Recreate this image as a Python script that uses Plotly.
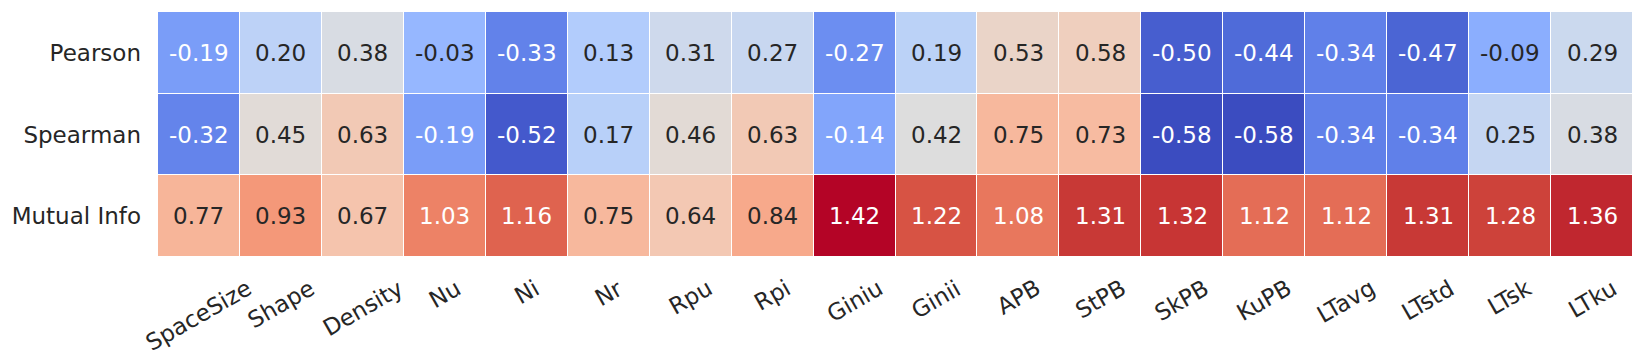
import plotly.graph_objects as go

features = ["SpaceSize", "Shape", "Density", "Nu", "Ni", "Nr", "Rpu", "Rpi", "Giniu",
            "Ginii", "APB", "StPB", "SkPB", "KuPB", "LTavg", "LTstd", "LTsk", "LTku"]
metrics = ["Pearson", "Spearman", "Mutual Info"]

pearson = [-0.19, 0.20, 0.38, -0.03, -0.33, 0.13, 0.31, 0.27, -0.27,
           0.19, 0.53, 0.58, -0.50, -0.44, -0.34, -0.47, -0.09, 0.29]
spearman = [-0.32, 0.45, 0.63, -0.19, -0.52, 0.17, 0.46, 0.63, -0.14,
            0.42, 0.75, 0.73, -0.58, -0.58, -0.34, -0.34, 0.25, 0.38]
mutual_info = [0.77, 0.93, 0.67, 1.03, 1.16, 0.75, 0.64, 0.84, 1.42,
               1.22, 1.08, 1.31, 1.32, 1.12, 1.12, 1.31, 1.28, 1.36]

z = [pearson, spearman, mutual_info]

# matplotlib coolwarm (Moreland) sampled at 33 points
cw = [(59, 76, 192), (68, 90, 204), (77, 104, 215), (87, 117, 225), (98, 130, 234),
      (108, 142, 241), (119, 154, 247), (130, 165, 251), (141, 176, 254), (152, 185, 255),
      (163, 194, 255), (174, 201, 253), (184, 208, 249), (194, 213, 244), (204, 217, 238),
      (213, 219, 230), (221, 221, 221), (229, 216, 209), (236, 211, 197), (241, 204, 185),
      (245, 196, 173), (247, 187, 160), (247, 177, 148), (247, 166, 135), (244, 154, 123),
      (241, 141, 111), (236, 127, 99), (229, 112, 88), (222, 96, 77), (213, 80, 66),
      (203, 62, 56), (192, 40, 47), (180, 4, 38)]
n = len(cw) - 1
colorscale = [[i / n, "rgb(%d,%d,%d)" % c] for i, c in enumerate(cw)]

vmin = min(min(r) for r in z)
vmax = max(max(r) for r in z)


def cmap(v):
    t = (v - vmin) / (vmax - vmin) * n
    i = min(int(t), n - 1)
    f = t - i
    return [cw[i][k] + (cw[i + 1][k] - cw[i][k]) * f for k in range(3)]


def luminance(rgb):
    out = []
    for c in rgb:
        c = c / 255
        out.append(c / 12.92 if c <= 0.03928 else ((c + 0.055) / 1.055) ** 2.4)
    return 0.2126 * out[0] + 0.7152 * out[1] + 0.0722 * out[2]


font = "DejaVu Sans"

fig = go.Figure(go.Heatmap(
    z=z, x=features, y=metrics,
    colorscale=colorscale, zmin=vmin, zmax=vmax,
    xgap=1, ygap=1, showscale=False, hoverinfo="skip",
))

for r, row in enumerate(z):
    for c, v in enumerate(row):
        col = "#262626" if luminance(cmap(v)) > 0.408 else "white"
        fig.add_annotation(x=features[c], y=metrics[r], text="%.2f" % v, showarrow=False,
                           font=dict(family=font, size=23, color=col))

for f in features:
    fig.add_annotation(x=f, y=0, yref="paper", yshift=-15, yanchor="top", xanchor="center",
                       text=f, textangle=-30, showarrow=False,
                       font=dict(family=font, size=23, color="#262626"))

# page body has an 8px margin, so the figure is sized to fit the window
fig.update_layout(
    width=1637, height=356,
    margin=dict(l=150, r=12, t=4, b=107, autoexpand=False),
    paper_bgcolor="white", plot_bgcolor="white",
    font=dict(family=font, size=23, color="#262626"),
    xaxis=dict(showticklabels=False, ticks="", showgrid=False, zeroline=False,
               automargin=False, range=[-0.5, len(features) - 0.5]),
    yaxis=dict(ticks="", showgrid=False, zeroline=False, automargin=False,
               range=[len(metrics) - 0.5, -0.5],
               ticklabelstandoff=16, tickfont=dict(size=23)),
)

fig.write_html("out.html")
